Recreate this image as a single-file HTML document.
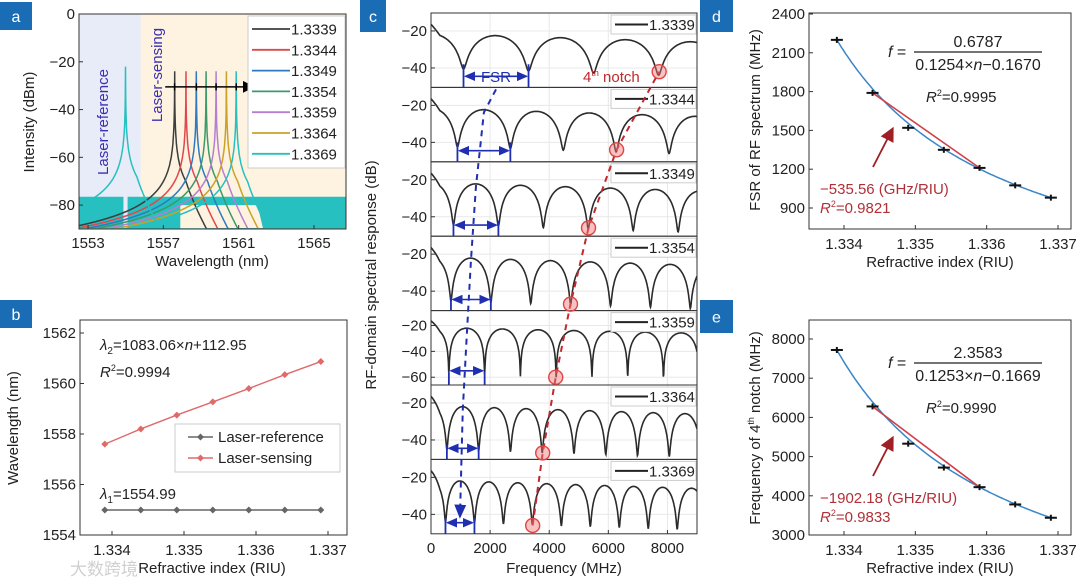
<!DOCTYPE html>
<html><head><meta charset="utf-8"><style>
html,body{margin:0;padding:0;background:#fff;}
svg{display:block;font-family:"Liberation Sans","Noto Sans CJK SC",sans-serif;}
</style></head><body>
<svg id="fig" width="1080" height="583" viewBox="0 0 1080 583" xmlns="http://www.w3.org/2000/svg">
<defs>
<clipPath id="clipA"><rect x="79" y="14" width="267" height="215"/></clipPath>
<marker id="arrK" markerWidth="8" markerHeight="8" refX="6" refY="4" orient="auto"><path d="M0,0 L8,4 L0,8z" fill="#000"/></marker>
<marker id="arrB" markerWidth="8" markerHeight="8" refX="6" refY="4" orient="auto"><path d="M0,1 L7,4 L0,7z" fill="#1f2fb0"/></marker>
<marker id="arrBs" markerWidth="8" markerHeight="8" refX="2" refY="4" orient="auto"><path d="M8,1 L1,4 L8,7z" fill="#1f2fb0"/></marker>
<marker id="arrR" markerWidth="8" markerHeight="8" refX="6" refY="4" orient="auto"><path d="M0,0 L8,4 L0,8z" fill="#a01f25"/></marker>
</defs>
</svg>
<script>
// ---- data ----
const riu = [1.3339,1.3344,1.3349,1.3354,1.3359,1.3364,1.3369];
const riuLabels = ['1.3339','1.3344','1.3349','1.3354','1.3359','1.3364','1.3369'];
const sensWave = [1557.6,1558.2,1558.75,1559.27,1559.8,1560.35,1560.87];
const refWave = [1554.99,1554.99,1554.99,1554.99,1554.99,1554.99,1554.99];
const fsr = [2200,1790,1520,1350,1210,1075,980];
const notch4 = [7720,6280,5330,4720,4220,3780,3440];
const notchDepth = [-40,-42,-44,-45,-58,-45,-44];
const aXTicks = [1553,1557,1561,1565];
const aYTicks = [0,-20,-40,-60,-80];
const bYTicks = [1554,1556,1558,1560,1562];
const riuTicks = [1.334,1.335,1.336,1.337];
const cXTicks = [0,2000,4000,6000,8000];
const dYTicks = [900,1200,1500,1800,2100,2400];
const eYTicks = [3000,4000,5000,6000,7000,8000];
const colors = ['#3d3d3d','#e0474c','#2f7abf','#3a9a6a','#b57fcf','#c9a227','#27c0c0'];

const svg = document.getElementById('fig');
const NS = 'http://www.w3.org/2000/svg';
function mk(tag, attrs, parent){ const e=document.createElementNS(NS,tag); for(const k in attrs) e.setAttribute(k,attrs[k]); (parent||svg).appendChild(e); return e; }
function txt(s, attrs, parent){ const e=mk('text',attrs,parent); e.textContent=s; return e; }
function lin(d0,d1,r0,r1){ return v=> r0+(v-d0)*(r1-r0)/(d1-d0); }

function labelBox(letter,x,y,w,h){
  const g=mk('g',{});
  
  
  mk('rect',{x:x,y:y,width:w,height:h,fill:'#1a6db5'},g);
  txt(letter,{x:x+w/2,y:y+h/2+6,'text-anchor':'middle','font-size':16,fill:'#fff'},g);
}
function frame(x0,y0,x1,y1,name){
  const r=mk('rect',{x:x0,y:y0,width:x1-x0,height:y1-y0,fill:'none',stroke:'#333','stroke-width':1});
  
  
}
function xTicks(ticks,sx,y,ylab,fmt,name){
  const g=mk('g',{});  
  ticks.forEach(t=>{ mk('line',{x1:sx(t),x2:sx(t),y1:y,y2:y-4,stroke:'#333'},g); txt(fmt(t),{x:sx(t),y:ylab,'text-anchor':'middle','font-size':15,fill:'#222'},g); });
}
function yTicks(ticks,sy,x,fmt,name){
  const g=mk('g',{});  
  ticks.forEach(t=>{ mk('line',{x1:x,x2:x+4,y1:sy(t),y2:sy(t),stroke:'#333'},g); txt(fmt(t),{x:x-4,y:sy(t)+5,'text-anchor':'end','font-size':15,fill:'#222'},g); });
}
function title(s,x,y,rot,name){
  const t=txt(s,{x:x,y:y,'text-anchor':'middle','font-size':15,fill:'#222',transform:rot?`rotate(-90 ${x} ${y})`:''});
    return t;
}
const minus = v=> String(v).replace('-','\u2212');

// ===== Panel a =====
labelBox('a',0,2,32,28);
const ax=lin(1552.52,1566.7,79,346), ay=lin(0,-90,14,229);
mk('rect',{x:79,y:14,width:ax(1555.8)-79,height:215,fill:'#e8ecf8'});
mk('rect',{x:ax(1555.8),y:14,width:346-ax(1555.8),height:215,fill:'#fdf3e0'});
const ga=mk('g',{'clip-path':'url(#clipA)'});  
const fl=ay(-76.5), fl2=ay(-80);
const floorP=mk('path',{d:`M79,${fl} L${ax(1554.88)},${fl} L${ax(1554.88)},229 L79,229Z M${ax(1555.1)},${fl} L346,${fl} L346,229 L${ax(1562.3)},229 L${ax(1562.0)},${fl2} L${ax(1557.9)},${fl2} L${ax(1557.9)},229 L${ax(1555.1)},229Z`,fill:'#27c0c0'},ga);
 
function peakLine(c,P,col,name){
  let d='';
  for(let l=1552.5;l<=1566.7;l+=0.01){
    const dd=Math.abs(l-c); let v=P-20*Math.log10(1+dd/0.003);
    if(l>c) v-=Math.max(0,(l-c-0.6))*10;
    v=Math.max(v,-90);
    d+=(d?'L':'M')+ax(l).toFixed(1)+','+ay(v).toFixed(1);
  }
  const p=mk('path',{d:d,fill:'none',stroke:col,'stroke-width':1.5},ga);
   
}
sensWave.forEach((w,i)=>peakLine(w,-24,colors[i],'sensing-peak-'+riuLabels[i]));
peakLine(refWave[6],-22,'#27c0c0','reference-peak');
frame(79,14,346,229,'plot-area-a');
xTicks(aXTicks,ax,229,248,v=>v,'x-ticks-a');
yTicks(aYTicks,ay,79,minus,'y-ticks-a');
title('Wavelength (nm)',212,266,false,'x-axis-title-a');
title('Intensity (dBm)',34,122,true,'y-axis-title-a');
let t=txt('Laser-reference',{x:108,y:122,'text-anchor':'middle','font-size':15,fill:'#3a2fb0',transform:'rotate(-90 108 122)'});  
t=txt('Laser-sensing',{x:162,y:75,'text-anchor':'middle','font-size':15,fill:'#3a2fb0',transform:'rotate(-90 162 75)'});  
const arrA=mk('line',{x1:ax(1557.1),x2:ax(1561.7),y1:ay(-30.5),y2:ay(-30.5),stroke:'#000','stroke-width':1.5,'marker-end':'url(#arrK)'});  
[1557.6,1558.75,1559.8,1560.87].forEach(w=>mk('line',{x1:ax(w),x2:ax(w),y1:ay(-29),y2:ay(-32),stroke:'#000','stroke-width':1.5}));
const legA=mk('g',{});  
mk('rect',{x:248,y:16,width:97,height:152,fill:'#fff',stroke:'#ccc'},legA);
riuLabels.forEach((s,i)=>{ const y=29+i*20.8; const e=mk('g',{},legA);   mk('line',{x1:252,x2:290,y1:y,y2:y,stroke:colors[i],'stroke-width':1.8},e); txt(s,{x:291,y:y+5.5,'font-size':15,fill:'#222'},e); });

// ===== Panel b =====
labelBox('b',0,300,32,28);
const bx=lin(1.334,1.337,112,328), by=lin(1554,1562,535,333);
frame(80,320,347,535,'plot-area-b');
xTicks(riuTicks,bx,535,555,v=>v.toFixed(3),'x-ticks-b');
yTicks(bYTicks,by,80,v=>v,'y-ticks-b');
title('Refractive index (RIU)',212,573,false,'x-axis-title-b');
title('Wavelength (nm)',18,428,true,'y-axis-title-b');
function series(xs,ys,sx,sy,col,name){
  const g=mk('g',{});  
  mk('polyline',{points:xs.map((x,i)=>sx(x)+','+sy(ys[i])).join(' '),fill:'none',stroke:col,'stroke-width':1.4},g);
  xs.forEach((x,i)=>{ const c=mk('path',{d:`M${sx(x)-3.5},${sy(ys[i])} L${sx(x)},${sy(ys[i])-3.5} L${sx(x)+3.5},${sy(ys[i])} L${sx(x)},${sy(ys[i])+3.5}Z`,fill:col},g);   });
}
series(riu,refWave,bx,by,'#666','laser-reference-series');
series(riu,sensWave,bx,by,'#e06a6a','laser-sensing-series');
t=txt('',{x:100,y:350,'font-size':15,fill:'#222'}); t.innerHTML='<tspan font-style="italic">λ</tspan><tspan font-size="10" dy="4">2</tspan><tspan dy="-4">=1083.06×</tspan><tspan font-style="italic">n</tspan><tspan>+112.95</tspan>';  
t=txt('',{x:100,y:377,'font-size':15,fill:'#222'}); t.innerHTML='<tspan font-style="italic">R</tspan><tspan font-size="9" dy="-6">2</tspan><tspan dy="6">=0.9994</tspan>';  
t=txt('',{x:100,y:499,'font-size':15,fill:'#222'}); t.innerHTML='<tspan font-style="italic">λ</tspan><tspan font-size="10" dy="4">1</tspan><tspan dy="-4">=1554.99</tspan>';  
const legB=mk('g',{});  
mk('rect',{x:175,y:424,width:165,height:48,fill:'#fff',stroke:'#ccc'},legB);
[['Laser-reference','#666',437],['Laser-sensing','#e06a6a',458]].forEach(a=>{ mk('line',{x1:188,x2:213,y1:a[2],y2:a[2],stroke:a[1],'stroke-width':1.4},legB); mk('path',{d:`M197,${a[2]} l3.5,-3.5 l3.5,3.5 l-3.5,3.5z`,fill:a[1]},legB); txt(a[0],{x:218,y:a[2]+5,'font-size':15,fill:'#222'},legB); });
t=txt('大数跨境',{x:70,y:575,'font-size':17,fill:'#d0d0d0'});  

// ===== Panel c =====
labelBox('c',360,0,26,32);
const cx=lin(0,9000,431,697);
const panelTop=13, panelH=74.4;
const centers=[], circles=[];
riu.forEach((n,p)=>{
  const top=panelTop+p*panelH, bot=top+panelH;
  const deep=p===4;
  const yr=deep?[-8.5,-66]:[-10.3,-50.5];
  const cy=lin(yr[0],yr[1],top,bot);
  const g=mk('g',{});  
  const cp=mk('clipPath',{id:'clipC'+p},g); mk('rect',{x:431,y:top,width:266,height:panelH},cp);
  cXTicks.concat([9000]).forEach(v=>mk('line',{x1:cx(v),x2:cx(v),y1:top,y2:bot,stroke:'#e8e8e8'},g));
  const yt=deep?[-20,-40,-60]:[-20,-40];
  yt.forEach(v=>mk('line',{x1:431,x2:697,y1:cy(v),y2:cy(v),stroke:'#e8e8e8'},g));
  const A=-21.5, eps=Math.pow(10,(notchDepth[p]-A)/10);
  let d='';
  for(let f=0;f<=9000;f+=12){ const c=Math.cos(Math.PI*f/fsr[p]); let v=A-f/2000+10*Math.log10(c*c+eps); if(f<300) v+= (300-f)/60; d+=(d?'L':'M')+cx(f).toFixed(1)+','+cy(v).toFixed(1); }
  const sp=mk('path',{d:d,fill:'none',stroke:'#2b2b2b','stroke-width':1.6,'clip-path':`url(#clipC${p})`},g);
   
  mk('rect',{x:431,y:top,width:266,height:panelH,fill:'none',stroke:'#333'},g);
  yt.forEach(v=>{ mk('line',{x1:431,x2:435,y1:cy(v),y2:cy(v),stroke:'#333'},g); txt(minus(v),{x:427,y:cy(v)+5,'text-anchor':'end','font-size':15,fill:'#222'},g); });
  mk('rect',{x:611,y:top+2,width:85,height:19,fill:'#fff',stroke:'#ccc'},g);
  mk('line',{x1:615,x2:648,y1:top+11.5,y2:top+11.5,stroke:'#222','stroke-width':2},g);
  txt(riuLabels[p],{x:649,y:top+17,'font-size':15,fill:'#222'},g);
  const f1=fsr[p]*0.5, f2=fsr[p]*1.5, ay2=deep?cy(-55):cy(-44.5);
  const fm=mk('g',{},g);  
  mk('line',{x1:cx(f1),x2:cx(f1),y1:cy(notchDepth[p]+2),y2:bot,stroke:'#1f2fb0','stroke-width':1.8},fm);
  mk('line',{x1:cx(f2),x2:cx(f2),y1:cy(notchDepth[p]+2),y2:bot,stroke:'#1f2fb0','stroke-width':1.8},fm);
  mk('line',{x1:cx(f1)+2,x2:cx(f2)-2,y1:ay2,y2:ay2,stroke:'#1f2fb0','stroke-width':1.6,'marker-end':'url(#arrB)','marker-start':'url(#arrBs)'},fm);
  centers.push([cx(fsr[p]),p===0?top+68:(p===6?ay2-6:top+25)]);
  circles.push([cx(notch4[p]),cy(notchDepth[p]-2)]);
});
const bd=mk('polyline',{points:centers.map((c,i)=>i===0?c[0]+','+(panelTop+panelH+2):c.join(',')).join(' '),fill:'none',stroke:'#1f2fb0','stroke-width':2,'stroke-dasharray':'6,5','marker-end':'url(#arrB)'});
 
const rd=mk('polyline',{points:circles.slice().reverse().map(c=>c.join(',')).join(' '),fill:'none',stroke:'#c0282e','stroke-width':2,'stroke-dasharray':'6,5'});
 
circles.forEach((c,i)=>{ const e=mk('circle',{cx:c[0],cy:c[1],r:7,fill:'rgba(240,120,120,0.45)',stroke:'#e04444','stroke-width':1.4});   });
t=txt('FSR',{x:cx(fsr[0]),y:82,'text-anchor':'middle','font-size':15,fill:'#1f2fb0'});  
t=txt('',{x:583,y:82,'font-size':15,fill:'#c0282e'}); t.innerHTML='4<tspan font-size="9" dy="-6">th</tspan><tspan dy="6"> notch</tspan>';  
xTicks(cXTicks,cx,534,553,v=>v,'x-ticks-c');
title('Frequency (MHz)',564,573,false,'x-axis-title-c');
title('RF-domain spectral response (dB)',376,275,true,'y-axis-title-c');

// ===== Panels d, e =====
function fitPanel(letter,yTop,yBot,yTicksArr,vals,num,den,r2,sens,r2b,ytitleHtml,yTitleY,textYs){
  labelBox(letter,700,letter==='d'?0:300,33,letter==='d'?32:33);
  const sx=lin(1.334,1.337,844,1058);
  const syv=lin(yTicksArr[0],yTicksArr[yTicksArr.length-1],textYs.y0,textYs.y1);
  frame(809,yTop,1071,yBot,'plot-area-'+letter);
  xTicks(riuTicks,sx,yBot,yBot+20,v=>v.toFixed(3),'x-ticks-'+letter);
  yTicks(yTicksArr,syv,809,v=>v,'y-ticks-'+letter);
  title('Refractive index (RIU)',940,yBot+38,false,'x-axis-title-'+letter);
  const yt=txt('',{x:760,y:yTitleY,'text-anchor':'middle','font-size':15,fill:'#222',transform:`rotate(-90 760 ${yTitleY})`}); yt.innerHTML=ytitleHtml;  
  const n0=(vals[0]*riu[0]-vals[6]*riu[6])/(vals[0]-vals[6]), A=vals[0]*(riu[0]-n0);
  let d='';
  for(let n=riu[0];n<=riu[6]+1e-9;n+=0.00003){ d+=(d?'L':'M')+sx(n).toFixed(1)+','+syv(A/(n-n0)).toFixed(1); }
  const fc=mk('path',{d:d,fill:'none',stroke:'#3a86c8','stroke-width':1.5});  
  const lf=mk('line',{x1:sx(riu[1]),y1:syv(vals[1]),x2:sx(riu[4]),y2:syv(vals[4]),stroke:'#d0404a','stroke-width':1.6});  
  riu.forEach((n,i)=>{ const g=mk('g',{});   mk('line',{x1:sx(n)-6,x2:sx(n)+6,y1:syv(vals[i]),y2:syv(vals[i]),stroke:'#111','stroke-width':2},g); mk('line',{x1:sx(n),x2:sx(n),y1:syv(vals[i])-3,y2:syv(vals[i])+3,stroke:'#111','stroke-width':2},g); });
  const eq=mk('g',{});  
  const fy=textYs.frac;
  txt('',{x:888,y:fy+5,'font-size':16,fill:'#222'},eq).innerHTML='<tspan font-style="italic">f</tspan> =';
  mk('line',{x1:914,x2:1042,y1:fy,y2:fy,stroke:'#222','stroke-width':1.2},eq);
  txt(num,{x:978,y:fy-5,'text-anchor':'middle','font-size':16,fill:'#222'},eq);
  txt('',{x:978,y:fy+18,'text-anchor':'middle','font-size':16,fill:'#222'},eq).innerHTML=den;
  const r=txt('',{x:926,y:fy+50,'font-size':15,fill:'#222'}); r.innerHTML='<tspan font-style="italic">R</tspan><tspan font-size="9" dy="-6">2</tspan><tspan dy="6">='+r2+'</tspan>';  
  const s=txt(sens,{x:820,y:textYs.sens,'font-size':15,fill:'#b03038'});  
  const r2e=txt('',{x:820,y:textYs.sens+19,'font-size':15,fill:'#b03038'}); r2e.innerHTML='<tspan font-style="italic">R</tspan><tspan font-size="9" dy="-6">2</tspan><tspan dy="6">='+r2b+'</tspan>';  
  const ar=mk('line',{x1:873,y1:textYs.sens-27,x2:892,y2:textYs.sens-64,stroke:'#a01f25','stroke-width':1.8,'marker-end':'url(#arrR)'});  
}
fitPanel('d',13,229,dYTicks,fsr,'0.6787','0.1254×<tspan font-style="italic">n</tspan>−0.1670','0.9995','−535.56 (GHz/RIU)','0.9821','FSR of RF spectrum (MHz)',120,{y0:208,y1:14,frac:52,sens:194});
fitPanel('e',320,535,eYTicks,notch4,'2.3583','0.1253×<tspan font-style="italic">n</tspan>−0.1669','0.9990','−1902.18 (GHz/RIU)','0.9833','Frequency of 4<tspan font-size="9" dy="-6">th</tspan><tspan dy="6"> notch (MHz)</tspan>',428,{y0:535,y1:339,frac:363,sens:503});
</script>
</body></html>
